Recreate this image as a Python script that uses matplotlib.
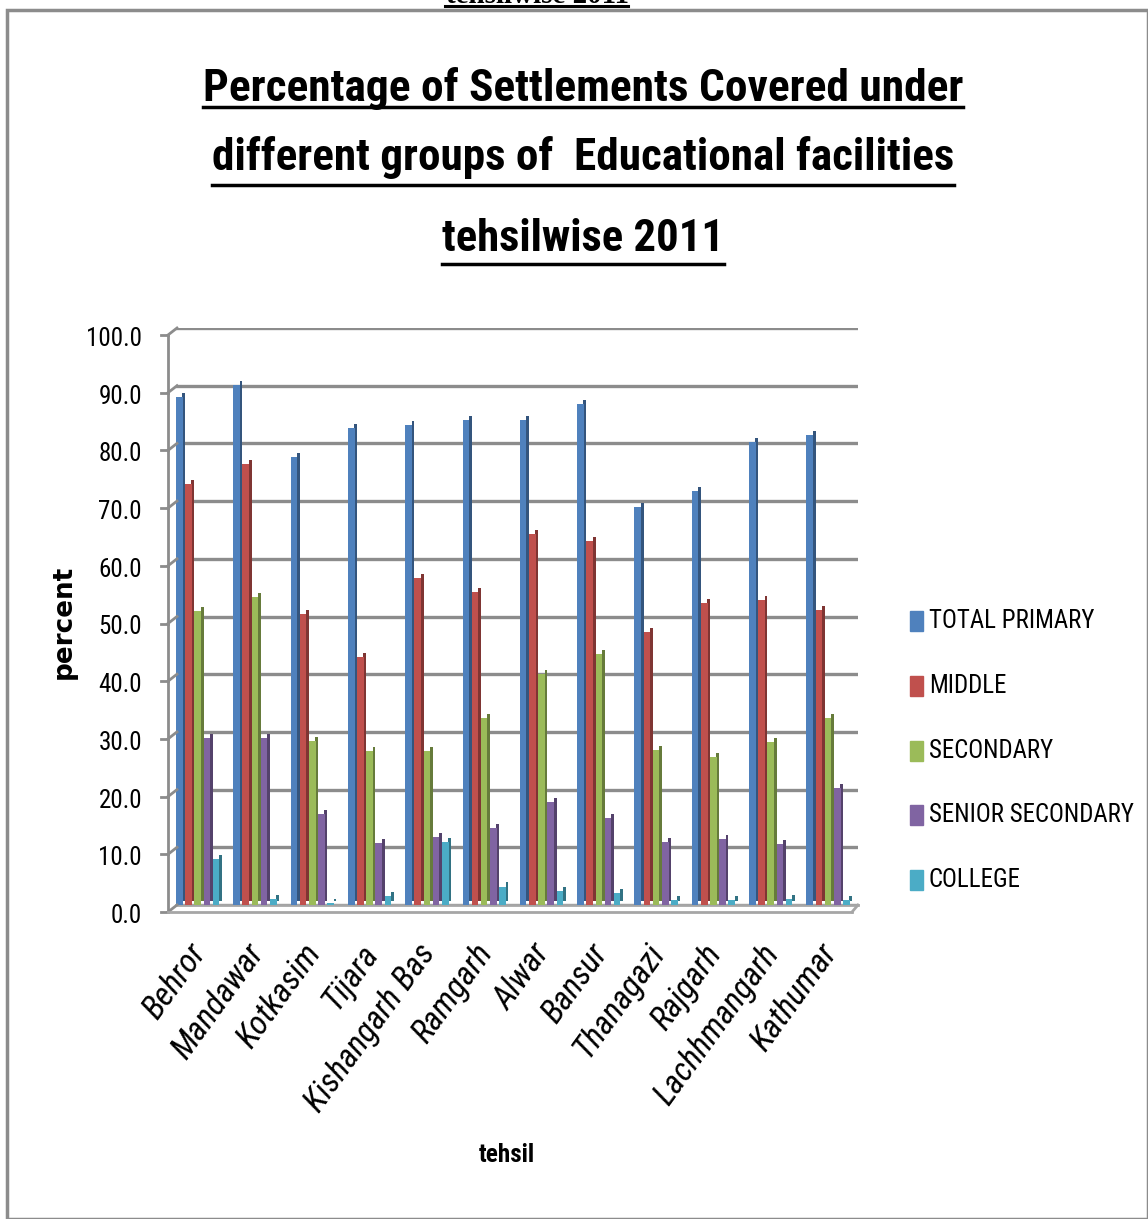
import numpy as np
import matplotlib
matplotlib.use("Agg")
import matplotlib.pyplot as plt
from matplotlib import font_manager as fm
from matplotlib.lines import Line2D
from matplotlib.patches import Rectangle
from matplotlib.colors import to_rgb
from matplotlib.transforms import ScaledTranslation


def narrow_font():
    names = {f.name for f in fm.fontManager.ttflist}
    for n in ["Liberation Sans Narrow", "Roboto Condensed", "Open Sans Condensed"]:
        if n in names:
            return n, "normal"
    for f in fm.fontManager.ttflist:
        st = f.stretch
        if (isinstance(st, str) and "condensed" in st) or (isinstance(st, int) and st < 500):
            return f.name, "condensed"
    return "Roboto", "normal"


FAMILY, STRETCH = narrow_font()
plt.rcParams['font.family'] = [FAMILY, 'DejaVu Sans']
plt.rcParams['font.stretch'] = STRETCH

tehsils = ["Behror", "Mandawar", "Kotkasim", "Tijara", "Kishangarh Bas", "Ramgarh",
           "Alwar", "Bansur", "Thanagazi", "Rajgarh", "Lachhmangarh", "Kathumar"]
total_primary = [88.0, 90.2, 77.7, 82.7, 83.2, 84.0, 84.1, 86.9, 68.9, 71.7, 80.3, 81.5]
middle = [73.0, 76.5, 50.5, 43.0, 56.7, 54.3, 64.3, 63.0, 47.3, 52.4, 52.9, 51.1]
secondary = [51.0, 53.3, 28.4, 26.7, 26.7, 32.4, 40.0, 43.5, 26.8, 25.6, 28.3, 32.4]
senior_secondary = [29.0, 29.0, 15.7, 10.7, 11.8, 13.3, 17.8, 15.0, 10.9, 11.4, 10.6, 20.2]
college = [8.0, 1.0, 0.4, 1.5, 10.9, 3.2, 2.5, 2.0, 0.8, 0.8, 1.0, 0.8]

series = [("TOTAL PRIMARY", total_primary, "#4F81BD"),
          ("MIDDLE", middle, "#C0504D"),
          ("SECONDARY", secondary, "#9BBB59"),
          ("SENIOR SECONDARY", senior_secondary, "#8064A2"),
          ("COLLEGE", college, "#4BACC6")]

W, H = 1148, 1219
fig = plt.figure(figsize=(W / 100, H / 100), dpi=100)
r = fig.canvas.get_renderer()


def fit_width(t, target):
    # shrink/grow a text until it is target pixels wide
    for _ in range(3):
        w = t.get_window_extent(renderer=r).width
        t.set_fontsize(t.get_fontsize() * target / w)
    return t.get_fontsize()


def fit_height(t, target):
    for _ in range(3):
        h = t.get_window_extent(renderer=r).height
        t.set_fontsize(t.get_fontsize() * target / h)


def px(xp, yp):
    return xp / W, 1 - yp / H


# outer frame
fig.patches.append(Rectangle((7 / W, 0), (W - 7) / W, 1 - 10 / H, transform=fig.transFigure,
                             fill=False, edgecolor="#8c8c8c", linewidth=2.5))

ax = fig.add_axes([176 / W, 1 - 905 / H, 682 / W, 577 / H])
x = np.arange(len(tehsils))
pitch = 0.16
side = 0.05
lift = 0.7
for i, (name, vals, col) in enumerate(series):
    pos = x - 2 * pitch + i * pitch
    dark = tuple(c * 0.66 for c in to_rgb(col))
    # darker right-hand face gives the bars some depth
    ax.bar(pos + pitch / 2 - side, vals, width=side, bottom=lift, align="edge",
           color=dark, zorder=3 + i * 0.1)
    ax.bar(pos - pitch / 2, vals, width=pitch - side + 0.005, align="edge", color=col,
           zorder=3.05 + i * 0.1)

ax.set_xlim(-0.4, 11.5)
ax.set_ylim(0, 100)
yt = np.arange(0, 101, 10)
ax.set_yticks([])
for v in yt:
    ax.axhline(v, color="#8c8c8c", linewidth=2.4, zorder=0)
for s in ["top", "right", "left"]:
    ax.spines[s].set_visible(False)
ax.spines["bottom"].set_color("#a6a6a6")
ax.spines["bottom"].set_linewidth(2.0)
ax.tick_params(axis="x", length=0, pad=24)
ax.set_xticks(x)
ax.set_xticklabels(tehsils, rotation=54, ha="right", rotation_mode="anchor",
                   fontsize=24, style="italic")
nudge = ScaledTranslation(-0.12, 0, fig.dpi_scale_trans)
for lab in ax.get_xticklabels():
    lab.set_transform(lab.get_transform() + nudge)

# front value axis: drawn a few pixels lower and to the left of the back wall
fig.lines.append(Line2D(*zip(px(168, 335), px(168, 912)), transform=fig.transFigure,
                        color="#8c8c8c", linewidth=2))
lab_size = None
for v in yt:
    yb = 905 - v * 5.77
    fig.lines.append(Line2D(*zip(px(168, yb + 7), px(177, yb)), transform=fig.transFigure,
                            color="#8c8c8c", linewidth=2))
    fig.lines.append(Line2D(*zip(px(161, yb + 7), px(168, yb + 7)), transform=fig.transFigure,
                            color="#8c8c8c", linewidth=2))
    t = fig.text(*px(142, yb + 11), f"{v:.1f}", fontsize=20, ha="right", va="center")
    if lab_size is None:
        t.set_text("100.0")
        lab_size = fit_width(t, 56)
        t.set_text(f"{v:.1f}")
    t.set_fontsize(lab_size)
# floor edge at the front
fig.lines.append(Line2D(*zip(px(168, 912), px(852, 912)), transform=fig.transFigure,
                        color="#a6a6a6", linewidth=2))
fig.lines.append(Line2D(*zip(px(852, 912), px(858, 905)), transform=fig.transFigure,
                        color="#a6a6a6", linewidth=2))

ylab = fig.text(*px(64, 622), "percent", fontsize=16, fontweight="bold",
                rotation=90, ha="center", va="center", family="DejaVu Sans", stretch="normal")
fit_height(ylab, 114)
xlab = fig.text(*px(507, 1155), "tehsil", fontsize=16, fontweight="bold",
                ha="center", va="center")
fit_width(xlab, 56)

# legend, one row per series
leg_y = [621, 686, 751, 815, 880]
leg_texts = []
for (name, vals, col), ypx in zip(series, leg_y):
    fig.patches.append(Rectangle(px(910, ypx + 10), 13 / W, 20 / H,
                                 transform=fig.transFigure, color=col))
    leg_texts.append(fig.text(*px(929, ypx), name, fontsize=20, ha="left", va="center"))
leg_size = fit_width(leg_texts[3], 204)
for t in leg_texts:
    t.set_fontsize(leg_size)

# underlined title lines: text, baseline, underline, width
title_lines = [("Percentage of Settlements Covered under", 101, 107, 760),
               ("different groups of  Educational facilities", 170, 185, 740),
               ("tehsilwise 2011", 251, 264, 282)]
for line, base, under, wpx in title_lines:
    t = fig.text(*px(583, base), line, fontsize=40, fontweight="bold",
                 ha="center", va="baseline")
    fit_width(t, wpx)
    bb = t.get_window_extent(renderer=r)
    fig.lines.append(Line2D([bb.x0 / W, bb.x1 / W], [1 - under / H] * 2,
                            transform=fig.transFigure, color="black", linewidth=2.5))

top = fig.text(*px(537, 3), "tehsilwise 2011", fontsize=20, fontweight="bold",
               family="Liberation Serif", stretch="normal", ha="center", va="baseline")
fit_width(top, 183)
fig.lines.append(Line2D(*zip(px(445, 6), px(628, 6)), transform=fig.transFigure,
                        color="black", linewidth=2.2))

fig.savefig("out.png", dpi=100)
